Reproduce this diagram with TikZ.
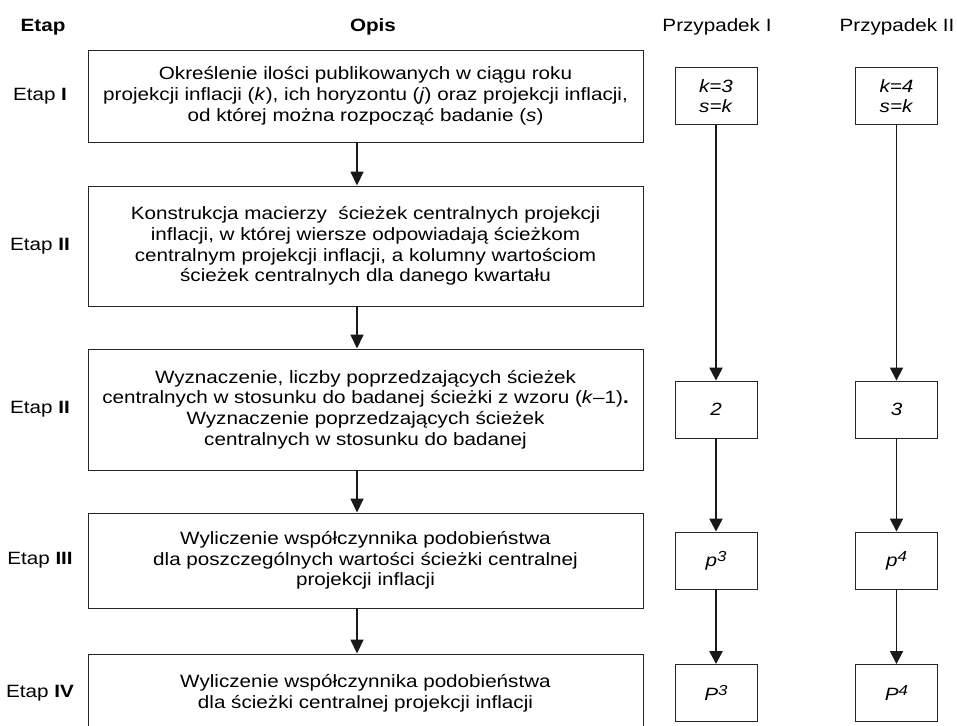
\documentclass[tikz,border=0pt]{standalone}
\usepackage{fontspec}
\setmainfont{Liberation Sans}[FakeStretch=1.16]
\usetikzlibrary{arrows.meta}
\newcommand{\wykl}[1]{\raisebox{0.55ex}{\fontsize{14.5}{14.5}\selectfont\textit{#1}}}
\begin{document}
\begin{tikzpicture}[x=1pt,y=-1pt,
		opis/.style={draw=black!85,line width=0.9pt,minimum width=555pt,align=center,inner sep=0pt},
		przyp/.style={draw=black!85,line width=0.9pt,minimum width=82pt,minimum height=57pt,align=center,inner sep=0pt},
		strz/.style={line width=1.6pt,draw=black!90,-{Triangle[width=13pt,length=14pt]}},
		strzp/.style={line width=2.4pt,draw=black!90,-{Triangle[width=13pt,length=13pt]}}]
			\useasboundingbox (0,0) rectangle (957,725);
			\fontsize{17.8}{20.7}\selectfont
			\node[font=\bfseries] (h1) at (43,27) {Etap};
			\node[font=\bfseries] (h2) at (373,27) {Opis};
			\node (h3) at (717,27) {Przypadek I};
			\node (h4) at (897,27) {Przypadek II};
			\node[opis,minimum height=92pt] (b1) at (365.5,96) {Określenie ilości publikowanych w ciągu roku\\projekcji inflacji (\textit{k}), ich horyzontu (\textit{j}) oraz projekcji inflacji,\\od której można rozpocząć badanie (\textit{s})};
			\node[opis,minimum height=120pt] (b2) at (365.5,246) {Konstrukcja macierzy \ ścieżek centralnych projekcji\\inflacji, w której wiersze odpowiadają ścieżkom\\centralnym projekcji inflacji, a kolumny wartościom\\ścieżek centralnych dla danego kwartału};
			\node[opis,minimum height=121pt] (b3) at (365.5,409.5) {Wyznaczenie, liczby poprzedzających ścieżek\\centralnych w stosunku do badanej ścieżki z wzoru (\textit{k}–1)\textbf{.}\\Wyznaczenie poprzedzających ścieżek\\centralnych w stosunku do badanej};
			\node[opis,minimum height=95pt] (b4) at (365.5,560.5) {Wyliczenie współczynnika podobieństwa\\dla poszczególnych wartości ścieżki centralnej\\projekcji inflacji};
			\node[opis,minimum height=78pt] (b5) at (365.5,693) {Wyliczenie współczynnika podobieństwa\\dla ścieżki centralnej projekcji inflacji};
			\node (e1) at (40,0 |- b1) {Etap \textbf{I}};
			\node (e2) at (40,0 |- b2) {Etap \textbf{II}};
			\node (e3) at (40,0 |- b3) {Etap \textbf{II}};
			\node (e4) at (40,0 |- b4) {Etap \textbf{III}};
			\node (e5) at (40,0 |- b5) {Etap \textbf{IV}};
			\node[przyp] (pa1) at (716,0 |- b1) {\textit{k=3}\\\textit{s=k}};
			\node[przyp] (pa2) at (716,0 |- b3) {\textit{2}};
			\node[przyp] (pa3) at (716,0 |- b4) {\textit{p}\wykl{3}};
			\node[przyp] (pa4) at (716,0 |- b5) {\textit{P}\wykl{3}};
			\node[przyp] (pb1) at (896.5,0 |- b1) {\textit{k=4}\\\textit{s=k}};
			\node[przyp] (pb2) at (896.5,0 |- b3) {\textit{3}};
			\node[przyp] (pb3) at (896.5,0 |- b4) {\textit{p}\wykl{4}};
			\node[przyp] (pb4) at (896.5,0 |- b5) {\textit{P}\wykl{4}};
			\draw[strz] ([xshift=-8.5pt]b1.south) to ([xshift=-8.5pt]b2.north);
			\draw[strz] ([xshift=-8.5pt]b2.south) to ([xshift=-8.5pt]b3.north);
			\draw[strz] ([xshift=-8.5pt]b3.south) to ([xshift=-8.5pt]b4.north);
			\draw[strz] ([xshift=-8.5pt]b4.south) to ([xshift=-8.5pt]b5.north);
			\draw[strzp] (pa1) to (pa2);
			\draw[strzp] (pa2) to (pa3);
			\draw[strzp] (pa3) to (pa4);
			\draw[strzp,line width=1.8pt] (pb1) to (pb2);
			\draw[strzp,line width=1.8pt] (pb2) to (pb3);
			\draw[strzp,line width=1.8pt] (pb3) to (pb4);
		\end{tikzpicture}
\end{document}
